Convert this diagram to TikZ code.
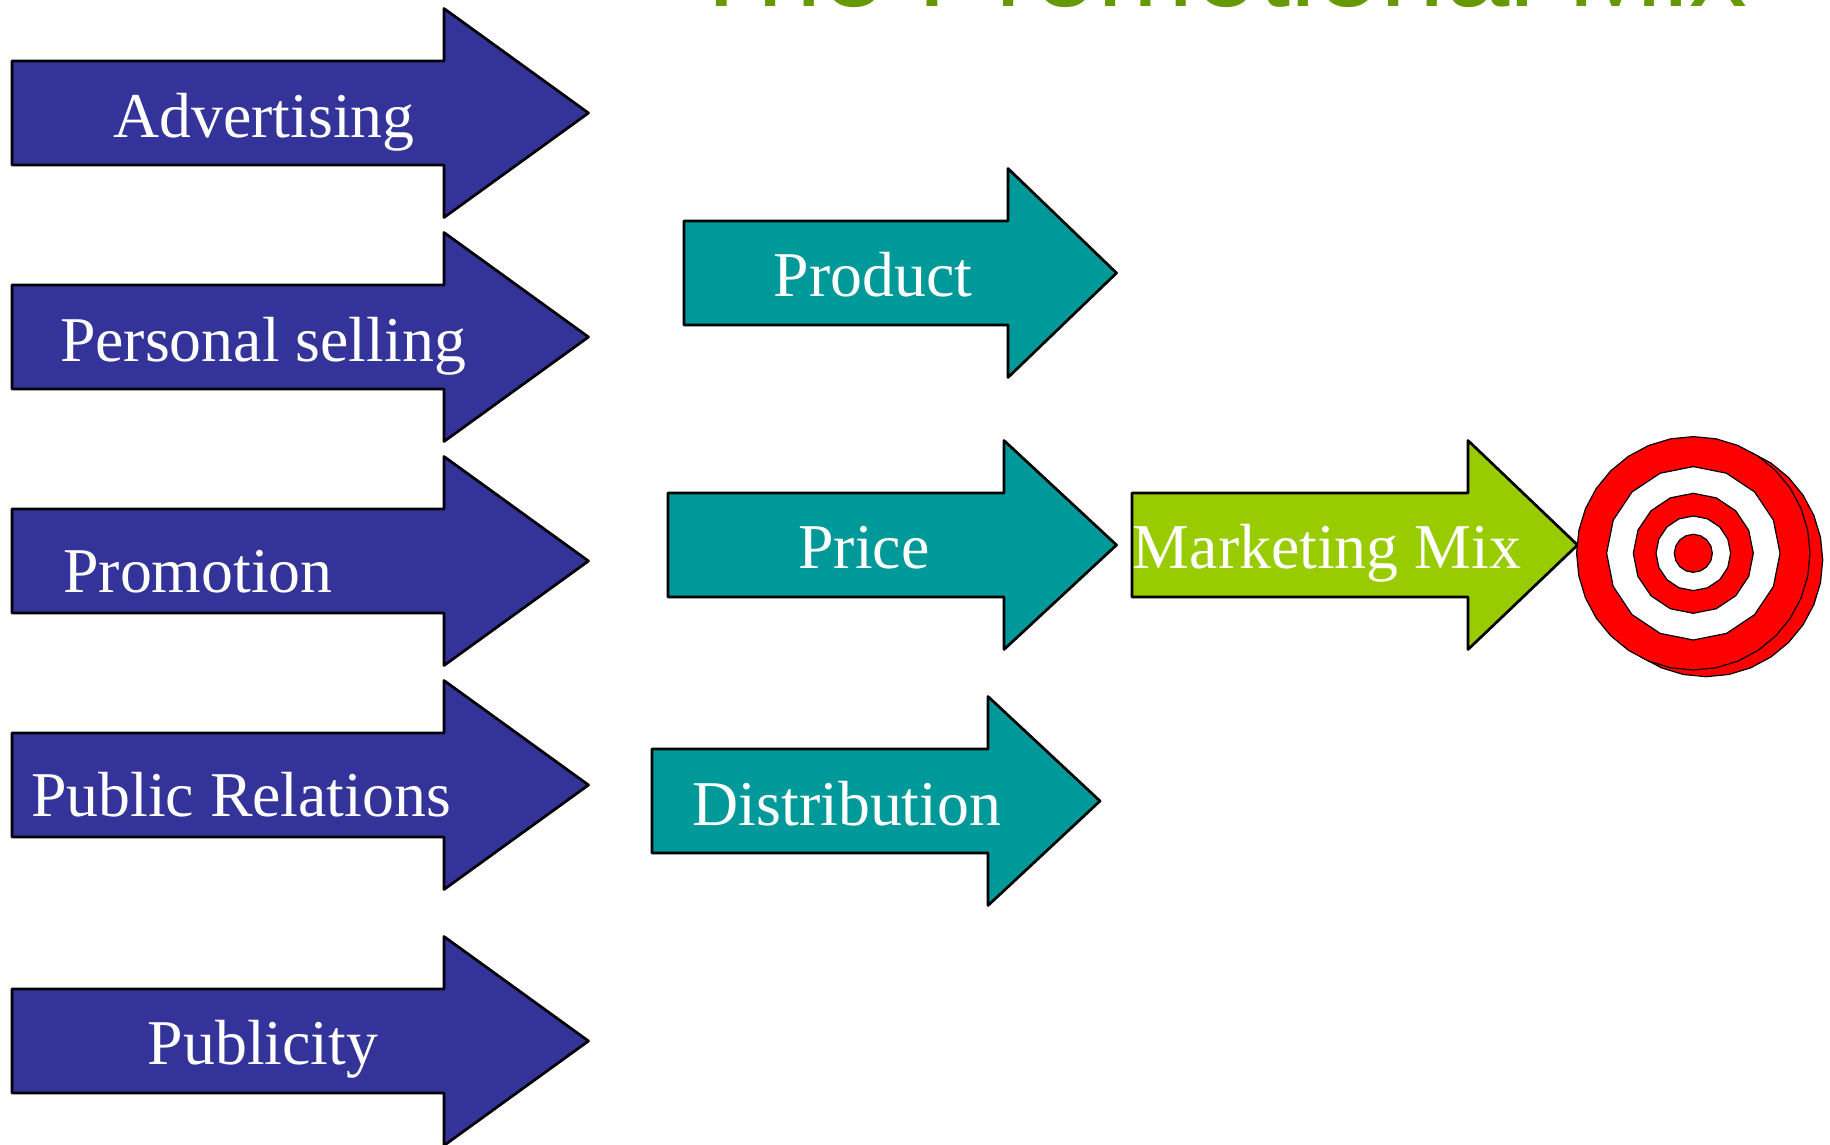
\documentclass[tikz,border=0pt]{standalone}
\usepackage{fontspec}
\setmainfont{Liberation Serif}
\newfontfamily\titlefont[Kerning=Off]{Liberation Sans}
\definecolor{navyfill}{HTML}{333399}
\definecolor{tealfill}{HTML}{009999}
\definecolor{limefill}{HTML}{99CC00}
\definecolor{titlegreen}{HTML}{669900}
\definecolor{targetred}{HTML}{FF0000}
\tikzset{
  arrowbody/.style={draw=black,line width=2.7pt,line join=round},
  label/.style={text=white,inner sep=0pt,anchor=base,font=\fontsize{63.8}{70}\selectfont},
  ring/.style={draw=black,line width=1.2pt,line join=round},
}
% left, shaft end, tip, head top, shaft top, tip y, shaft bottom, head bottom, colour
\newcommand{\blockarrow}[9]{\filldraw[arrowbody,fill=#9] (#1,#5) -- (#2,#5) -- (#2,#4) -- (#3,#6) -- (#2,#8) -- (#2,#7) -- (#1,#7) -- cycle;}
% centre x, centre y, radius, sides, colour
\newcommand{\ringpoly}[5]{\filldraw[ring,fill=#5] plot[samples=#4+1,domain=0:360] ({#1+#3*cos(\x)},{#2+#3*sin(\x)}) -- cycle;}
\begin{document}
\begin{tikzpicture}[x=1pt,y=-1pt]
\useasboundingbox (0,0) rectangle (1830,1145);
\clip (0,0) rectangle (1830,1145);
\node[inner sep=0pt,anchor=base west,text=titlegreen,font=\titlefont\fontsize{115.7}{120}\selectfont] (title) at (686.3,7) {The Promotional Mix};

\blockarrow{12}{444}{588.5}{8.5}{61}{113}{165}{217.5}{navyfill}
\blockarrow{12}{444}{588.5}{232.5}{285}{337}{389}{441.5}{navyfill}
\blockarrow{12}{444}{588.5}{456.5}{509}{561}{613}{665.5}{navyfill}
\blockarrow{12}{444}{588.5}{680.5}{733}{785}{837}{889.5}{navyfill}
\blockarrow{12}{444}{588.5}{936.5}{989}{1041}{1093}{1145.5}{navyfill}

\blockarrow{684}{1008}{1116.5}{168.5}{221}{273}{325}{377.5}{tealfill}
\blockarrow{668}{1004}{1116.5}{440.5}{493}{545}{597}{649.5}{tealfill}
\blockarrow{652}{988}{1100}{696.5}{749}{801}{853}{905.5}{tealfill}
\blockarrow{1132}{1468}{1577.5}{440.5}{493}{545}{597}{649.5}{limefill}

\node[label] (advertising) at (264,137) {Advertising};
\node[label] (personal) at (263,361) {Personal selling};
\node[label] (promotion) at (198,592.5) {Promotion};
\node[label] (public) at (241,816.5) {Public Relations};
\node[label] (publicity) at (263,1064) {Publicity};
\node[label] (product) at (873,296.5) {Product};
\node[label] (price) at (864,568) {Price};
\node[label] (distribution) at (847,825.5) {Distribution};
\node[label] (marketing) at (1327,568) {Marketing Mix};

\ringpoly{1706}{560}{116.7}{32}{targetred}
\ringpoly{1693.3}{553.3}{116.7}{32}{targetred}
\ringpoly{1693.3}{553.3}{86.7}{16}{white}
\ringpoly{1693.3}{553.3}{60}{16}{targetred}
\ringpoly{1693.3}{553.3}{37.3}{16}{white}
\ringpoly{1693.3}{553.3}{19}{16}{targetred}
\end{tikzpicture}
\end{document}
